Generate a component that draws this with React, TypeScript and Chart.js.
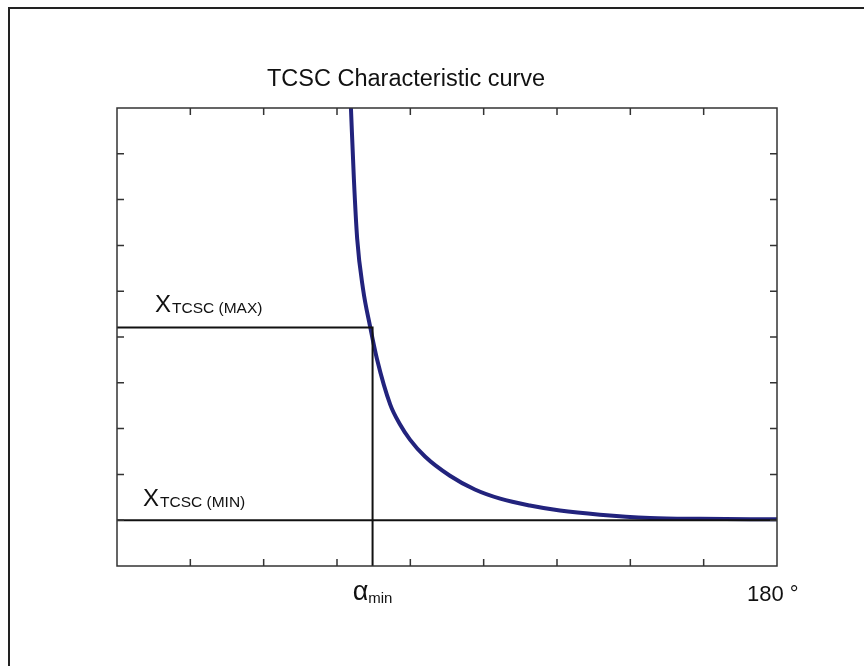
import React, { useEffect, useRef } from "react";
import { Chart, registerables } from "chart.js";

Chart.register(...registerables);

// Characteristic curve: firing angle (degrees) vs reactance (relative units)
const curveAngle = [63.8, 64.6, 65.5, 67.1, 69.0, 70.9, 74.5, 77.2, 79.9, 84.0, 90.8, 97.6, 104.5, 112.6, 120.8, 131.7, 145.4, 159.0, 180];
const curveReactance = [10.0, 8.46, 7.15, 6.05, 5.24, 4.52, 3.53, 3.09, 2.76, 2.39, 1.97, 1.67, 1.47, 1.32, 1.21, 1.12, 1.05, 1.03, 1.02];

const alphaMin = 69.7;
const xMax = 5.21;
const xMin = 1.0;
const angleRange = [0, 180];
const reactRange = [0, 10];
const xTicks = [20, 40, 60, 80, 100, 120, 140, 160];
const yTicks = [1, 2, 3, 4, 5, 6, 7, 8, 9];

const titleText = "TCSC Characteristic curve";
const maxLabelMain = "X";
const maxLabelSub = "TCSC (MAX)";
const minLabelMain = "X";
const minLabelSub = "TCSC (MIN)";
const alphaMain = "α";
const alphaSub = "min";
const endLabel = "180 °";

const FONT = "'Liberation Sans', Arial, sans-serif";

const decorPlugin = {
  id: "decor",
  beforeDraw(chart: any) {
    const { ctx, width, height } = chart;
    ctx.save();
    ctx.fillStyle = "#ffffff";
    ctx.fillRect(0, 0, width, height);
    ctx.strokeStyle = "#222";
    ctx.lineWidth = 2;
    ctx.beginPath();
    ctx.moveTo(9, height);
    ctx.lineTo(9, 8);
    ctx.lineTo(width, 8);
    ctx.stroke();
    ctx.restore();
  },
  afterDraw(chart: any) {
    const { ctx } = chart;
    const xs = chart.scales.x;
    const ys = chart.scales.y;
    const L = xs.getPixelForValue(angleRange[0]);
    const R = xs.getPixelForValue(angleRange[1]);
    const T = ys.getPixelForValue(reactRange[1]);
    const B = ys.getPixelForValue(reactRange[0]);
    ctx.save();
    // box
    ctx.strokeStyle = "#333";
    ctx.lineWidth = 1.5;
    ctx.strokeRect(L, T, R - L, B - T);
    // inward ticks
    const tl = 7;
    ctx.beginPath();
    xTicks.forEach((v) => {
      const p = xs.getPixelForValue(v);
      ctx.moveTo(p, B);
      ctx.lineTo(p, B - tl);
      ctx.moveTo(p, T);
      ctx.lineTo(p, T + tl);
    });
    yTicks.forEach((v) => {
      const p = ys.getPixelForValue(v);
      ctx.moveTo(L, p);
      ctx.lineTo(L + tl, p);
      ctx.moveTo(R, p);
      ctx.lineTo(R - tl, p);
    });
    ctx.stroke();

    // texts
    ctx.fillStyle = "#111";
    ctx.textBaseline = "alphabetic";
    ctx.textAlign = "left";
    ctx.font = `23.5px ${FONT}`;
    ctx.fillText(titleText, 267, 86);

    const yMaxPx = ys.getPixelForValue(xMax);
    const yMinPx = ys.getPixelForValue(xMin);
    const drawSub = (main: string, sub: string, x: number, base: number, mainSize: number, subSize: number) => {
      ctx.font = `${mainSize}px ${FONT}`;
      ctx.fillText(main, x, base);
      const w = ctx.measureText(main).width;
      ctx.font = `${subSize}px ${FONT}`;
      ctx.fillText(sub, x + w + 1, base + 1);
    };
    drawSub(maxLabelMain, maxLabelSub, L + 38, yMaxPx - 15, 24, 15.5);
    drawSub(minLabelMain, minLabelSub, L + 26, yMinPx - 14, 24, 15.5);

    // alpha min label centred on alphaMin
    const ax = xs.getPixelForValue(alphaMin);
    ctx.font = `27px ${FONT}`;
    const aw = ctx.measureText(alphaMain).width;
    ctx.font = `15px ${FONT}`;
    const sw = ctx.measureText(alphaSub).width;
    const start = ax - (aw + sw) / 2;
    ctx.font = `27px ${FONT}`;
    ctx.fillText(alphaMain, start, B + 34);
    ctx.font = `15px ${FONT}`;
    ctx.fillText(alphaSub, start + aw, B + 37);

    ctx.font = `22px ${FONT}`;
    ctx.fillText(endLabel, R - 30, B + 35);
    ctx.restore();
  },
};

export default function App() {
  const ref = useRef<HTMLCanvasElement | null>(null);
  useEffect(() => {
    if (!ref.current) return;
    const curve = curveAngle.map((a, i) => ({ x: a, y: curveReactance[i] }));
    const chart = new Chart(ref.current, {
      type: "line",
      data: {
        datasets: [
          {
            data: [
              { x: angleRange[0], y: xMax },
              { x: alphaMin, y: xMax },
              { x: alphaMin, y: reactRange[0] },
            ],
            borderColor: "#111",
            borderWidth: 2,
            pointRadius: 0,
            tension: 0,
          },
          {
            data: [
              { x: angleRange[0] - 0.5, y: xMin },
              { x: angleRange[1], y: xMin },
            ],
            borderColor: "#111",
            borderWidth: 2,
            pointRadius: 0,
            tension: 0,
          },
          {
            data: curve,
            borderColor: "#22237d",
            borderWidth: 4,
            pointRadius: 0,
            cubicInterpolationMode: "monotone",
          },
        ],
      },
      options: {
        responsive: false,
        animation: false,
        layout: { padding: { left: 117, right: 87, top: 108, bottom: 100 } },
        plugins: { legend: { display: false }, title: { display: false }, tooltip: { enabled: false } },
        scales: {
          x: { type: "linear", min: angleRange[0], max: angleRange[1], display: false },
          y: { type: "linear", min: reactRange[0], max: reactRange[1], display: false },
        },
      },
      plugins: [decorPlugin],
    });
    return () => chart.destroy();
  }, []);
  return (
    <div style={{ position: "absolute", left: 0, top: 0, width: 864, height: 666 }}>
      <canvas ref={ref} width={864} height={666} style={{ display: "block" }} />
    </div>
  );
}
